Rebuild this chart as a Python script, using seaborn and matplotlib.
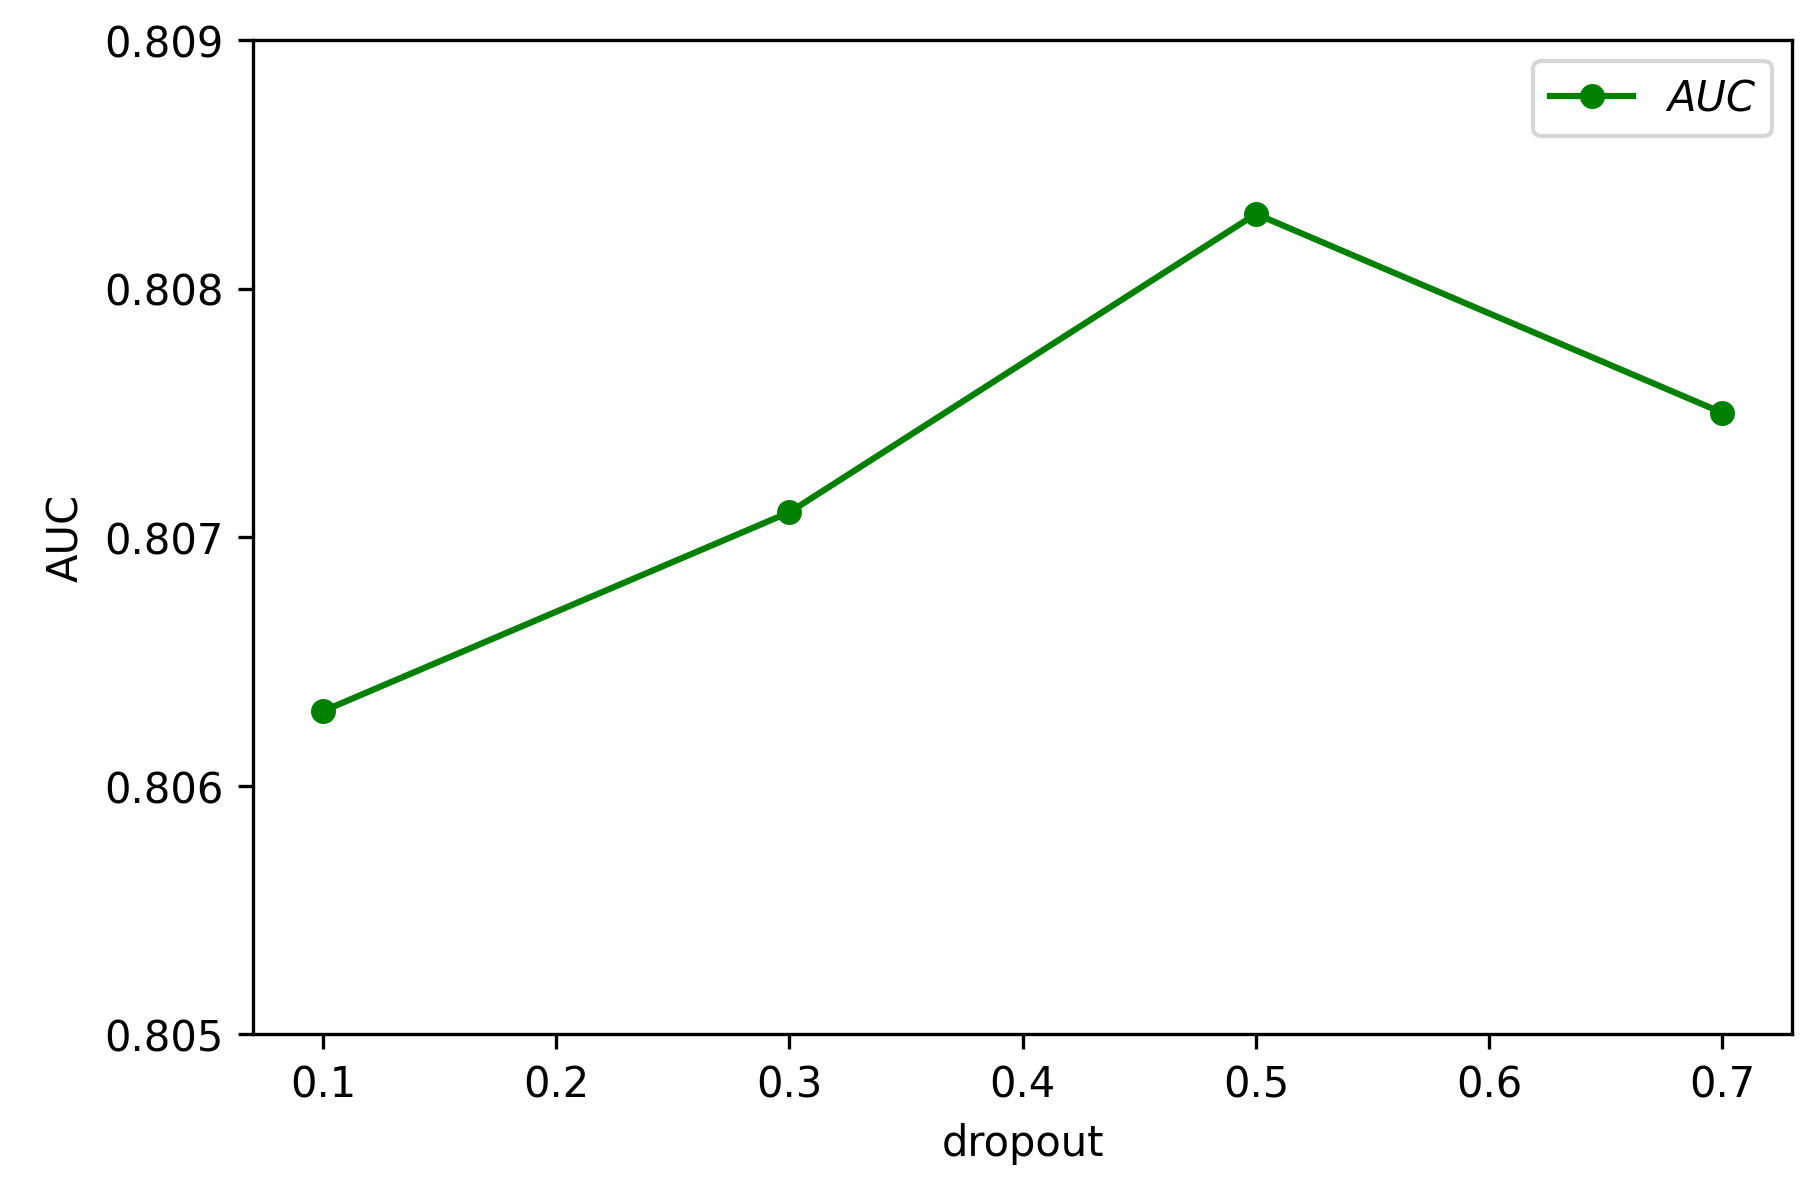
import matplotlib
matplotlib.use("Agg")
import matplotlib.pyplot as plt
import seaborn as sns
import pandas as pd

# data
dropout = [0.1, 0.3, 0.5, 0.7]
auc = [0.8063, 0.8071, 0.8083, 0.8075]
x_ticks = [0.1, 0.2, 0.3, 0.4, 0.5, 0.6, 0.7]
y_ticks = [0.805, 0.806, 0.807, 0.808, 0.809]

df = pd.DataFrame({"dropout": dropout, "AUC": auc})

fig, ax = plt.subplots(figsize=(6.023, 4.003), dpi=300)
fig.subplots_adjust(left=0.14, right=0.992, top=0.966, bottom=0.138)

sns.lineplot(data=df, x="dropout", y="AUC", ax=ax, color="green",
             marker="o", markersize=6, markeredgewidth=0, linewidth=1.5,
             label="AUC")

ax.set_xlim(0.07, 0.73)
ax.set_ylim(0.805, 0.809)
ax.set_xticks(x_ticks)
ax.set_yticks(y_ticks)
ax.set_xlabel("dropout")
ax.set_ylabel("AUC")
ax.legend(loc="upper right", prop={"style": "italic"})

fig.savefig("out.png", dpi=300)
